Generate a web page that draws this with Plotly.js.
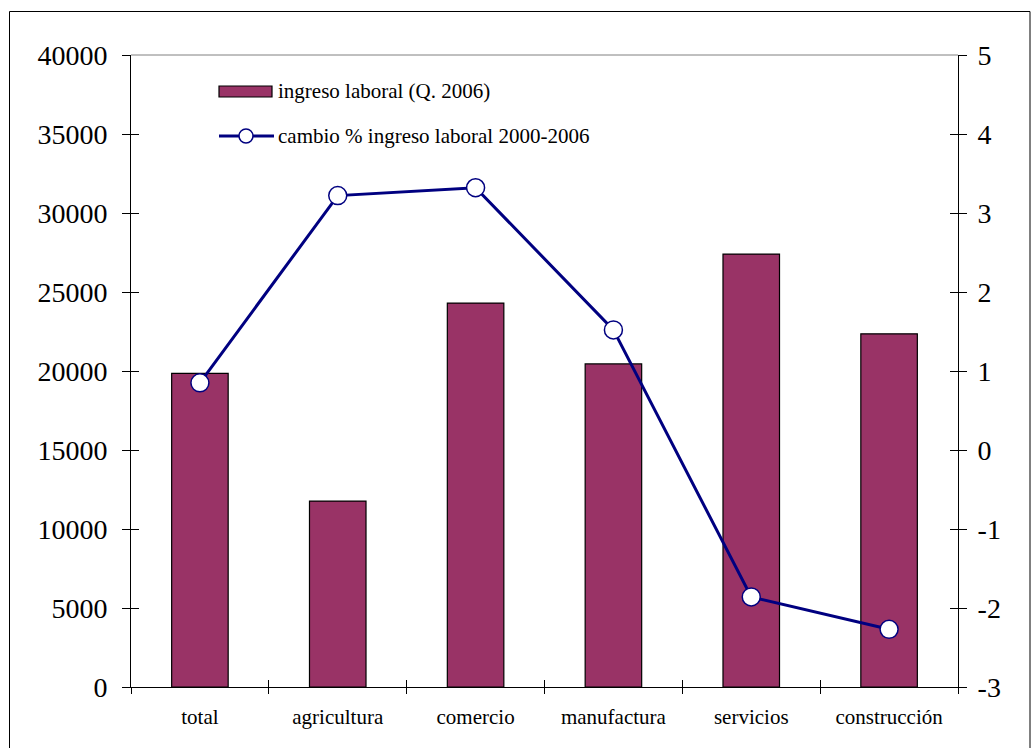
<!DOCTYPE html>
<html>
<head>
<meta charset="utf-8">
<script src="https://cdn.plot.ly/plotly-3.0.1.min.js"></script>
<style>html,body{margin:0;padding:0;background:#fff;}#chart{width:1032px;height:748px;}</style>
</head>
<body>
<div id="chart"></div>
<script>
const categories = ["total", "agricultura", "comercio", "manufactura", "servicios", "construcción"];
const ingresoLaboral = [19850, 11770, 24300, 20450, 27400, 22350];
const cambioPct = [0.85, 3.22, 3.32, 1.52, -1.86, -2.27];
const leftTicks = [0, 5000, 10000, 15000, 20000, 25000, 30000, 35000, 40000];
const rightTicks = [-3, -2, -1, 0, 1, 2, 3, 4, 5];
const barName = "ingreso laboral (Q. 2006)";
const lineName = "cambio % ingreso laboral 2000-2006";

const serif = "'Liberation Serif', 'Times New Roman', Times, serif";
const PL = 131, PR = 958, PT = 55, PB = 687;
const W = PR - PL, H = PB - PT;
const px = x => (x - PL) / W;
const py = y => (PB - y) / H;

const traces = [
  {
    type: "bar", x: categories, y: ingresoLaboral, name: barName,
    marker: {color: "#993366", line: {color: "#000000", width: 1.2}},
    width: 0.41, yaxis: "y", xaxis: "x", hoverinfo: "x+y"
  },
  {
    type: "scatter", mode: "lines+markers", x: categories, y: cambioPct, name: lineName,
    line: {color: "#000080", width: 3},
    marker: {symbol: "circle", size: 18, color: "#ffffff", line: {color: "#000080", width: 1.5}},
    yaxis: "y2", xaxis: "x", cliponaxis: false
  },
  {type: "scatter", mode: "markers", x: [0], y: [0], xaxis: "x3", yaxis: "y3",
   marker: {opacity: 0, size: 1}, hoverinfo: "skip", showlegend: false},
  {type: "scatter", mode: "markers", x: [0], y: [0], xaxis: "x3", yaxis: "y4",
   marker: {opacity: 0, size: 1}, hoverinfo: "skip", showlegend: false}
];

const tickFont = {family: serif, size: 28, color: "#000"};

const layout = {
  width: 1032, height: 748,
  margin: {l: PL, r: 1032 - PR, t: PT, b: 748 - PB, pad: 0},
  paper_bgcolor: "#ffffff", plot_bgcolor: "#ffffff",
  showlegend: false,
  font: {family: serif, color: "#000000"},
  xaxis: {
    type: "category", categoryorder: "array", categoryarray: categories,
    range: [-0.5, 5.5], tickson: "boundaries",
    ticks: "outside", ticklen: 6, tickcolor: "#000", tickwidth: 1,
    showline: true, linecolor: "#000", linewidth: 1,
    showgrid: false, zeroline: false,
    tickfont: {family: serif, size: 21, color: "#000"},
    ticklabelstandoff: 11
  },
  xaxis3: {
    overlaying: "x", type: "linear", range: [-0.5, 5.5], tickmode: "array",
    tickvals: categories.slice(1).map((c, i) => i + 0.5),
    ticks: "inside", ticklen: 7, tickcolor: "#000", tickwidth: 1,
    showticklabels: false, showline: false, showgrid: false, zeroline: false
  },
  yaxis: {
    range: [0, 40000], tickmode: "array", tickvals: leftTicks, ticktext: leftTicks.map(String),
    ticks: "outside", ticklen: 8, tickcolor: "#000", tickwidth: 1,
    showline: true, linecolor: "#000", linewidth: 1,
    showgrid: false, zeroline: false,
    tickfont: tickFont, ticklabelstandoff: 9
  },
  yaxis3: {
    overlaying: "y", side: "left", range: [0, 40000], tickmode: "array", tickvals: leftTicks,
    ticks: "inside", ticklen: 8, tickcolor: "#000", tickwidth: 1,
    showticklabels: false, showline: false, showgrid: false, zeroline: false
  },
  yaxis2: {
    overlaying: "y", side: "right", range: [-3, 5], tickmode: "array", tickvals: rightTicks,
    ticktext: rightTicks.map(String),
    ticks: "outside", ticklen: 8, tickcolor: "#000", tickwidth: 1,
    showline: true, linecolor: "#000", linewidth: 1,
    showgrid: false, zeroline: false,
    tickfont: tickFont, ticklabelstandoff: 5
  },
  yaxis4: {
    overlaying: "y", side: "right", range: [-3, 5], tickmode: "array", tickvals: rightTicks,
    ticks: "inside", ticklen: 8, tickcolor: "#000", tickwidth: 1,
    showticklabels: false, showline: false, showgrid: false, zeroline: false
  },
  shapes: [
    {type: "line", xref: "paper", yref: "paper", x0: 0, x1: 1, y0: 1, y1: 1,
     line: {color: "#808080", width: 1}},
    {type: "rect", xref: "paper", yref: "paper", x0: px(9.5), x1: px(1030), y0: py(760), y1: py(11.5),
     line: {color: "#000", width: 1}, fillcolor: "rgba(0,0,0,0)"},
    {type: "rect", xref: "paper", yref: "paper", x0: px(219), x1: px(272), y0: py(97), y1: py(86),
     line: {color: "#000", width: 1.2}, fillcolor: "#993366"},
    {type: "line", xref: "paper", yref: "paper", x0: px(219), x1: px(274), y0: py(136), y1: py(136),
     line: {color: "#000080", width: 3}},
    {type: "circle", xref: "paper", yref: "paper", x0: px(239), x1: px(253), y0: py(143), y1: py(129),
     line: {color: "#000080", width: 1.5}, fillcolor: "#ffffff"}
  ],
  annotations: [
    {xref: "paper", yref: "paper", x: px(276), y: py(91), text: barName, showarrow: false,
     xanchor: "left", yanchor: "middle", font: {family: serif, size: 21, color: "#000"}},
    {xref: "paper", yref: "paper", x: px(276), y: py(136), text: lineName, showarrow: false,
     xanchor: "left", yanchor: "middle", font: {family: serif, size: 21, color: "#000"}}
  ]
};

Plotly.newPlot("chart", traces, layout, {displayModeBar: false, staticPlot: true});
</script>
</body>
</html>
